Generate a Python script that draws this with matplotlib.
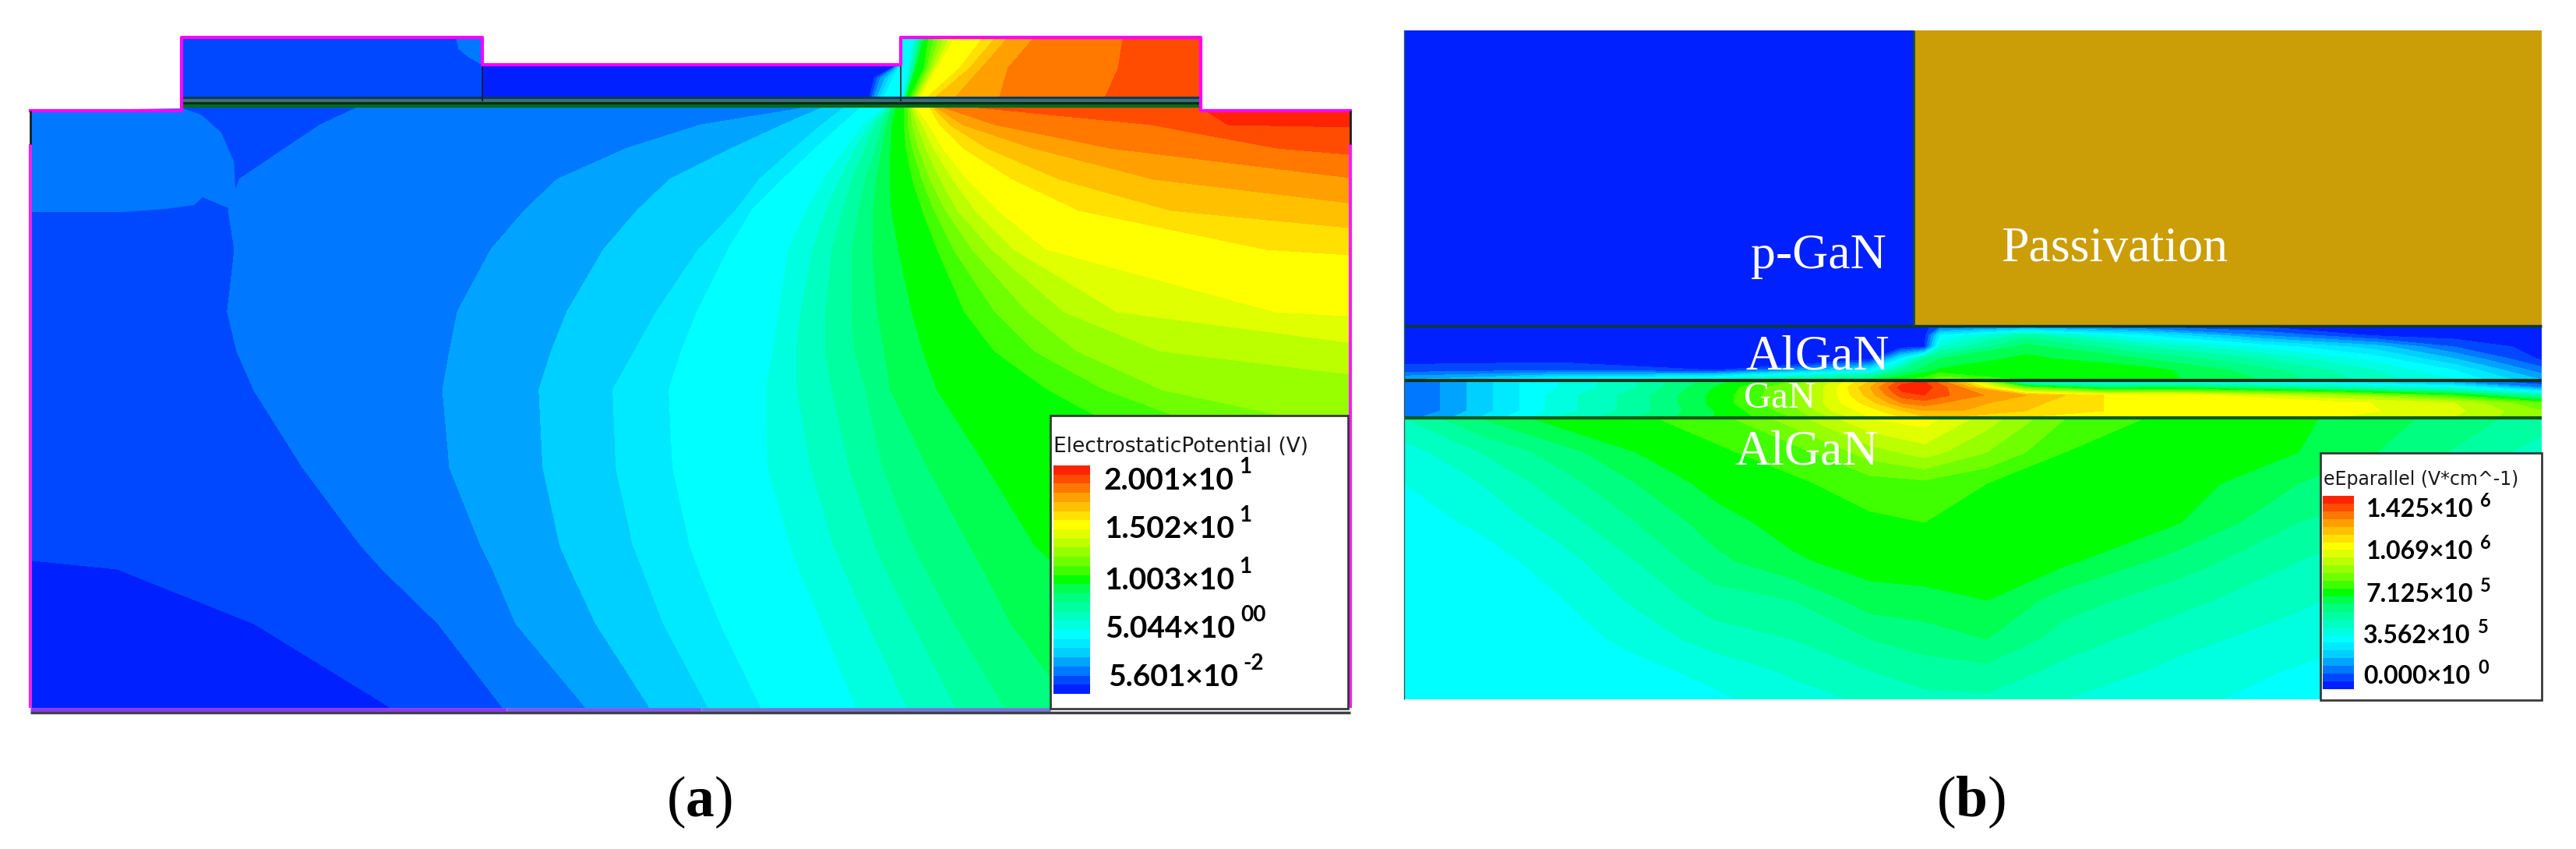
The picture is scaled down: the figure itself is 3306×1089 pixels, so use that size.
import matplotlib

matplotlib.use("Agg")

import matplotlib.pyplot as plt
import numpy as np
from matplotlib.colors import BoundaryNorm, ListedColormap
from matplotlib.patches import Polygon, Rectangle

# Colour steps of the TCAD legend, low to high.
band_colors = [
    "#0020ff", "#0048ff", "#0078ff", "#00a4ff", "#00d0ff", "#00eaff", "#00ffff",
    "#00ffe0", "#00ffc0", "#00ffa0", "#00ff80", "#00ff50", "#00ff00", "#40ff00",
    "#70ff00", "#98ff00", "#bcff00", "#e0ff00", "#ffff00", "#ffe000", "#ffc000",
    "#ffa000", "#ff7800", "#ff4c00", "#ff2400",
]

# (a) potential: for each depth, the x where the potential crosses each value.
depths = [137, 160, 190, 230, 270, 320, 400, 450, 500, 600, 700, 730, 800, 909]
potentials = [0.85, 1.65, 2.45, 3.25, 4.05, 4.85, 5.64, 6.44, 7.24, 8.04, 8.84, 9.63,
              10.43, 11.23, 12.03, 12.83, 13.63, 14.42, 15.22, 16.02, 16.82, 17.62,
              18.41, 19.21]
crossing_x = [
    [-200, -200, -200, -200, -200, -200, -200, -200, -200, -180, -148, 149, 325, 503],
    [459, 410, 365, 306, 292, 300, 291, 303, 325, 388, 463, 490, 562, 646],
    [1040, 900, 805, 715, 673, 630, 587, 577, 568, 577, 617, 632, 662, 753],
    [1058, 1005, 940, 860, 818, 775, 728, 708, 692, 697, 719, 732, 765, 835],
    [1085, 1055, 1020, 975, 945, 897, 843, 815, 787, 791, 813, 825, 852, 910],
    [1106, 1080, 1047, 1005, 965, 935, 895, 875, 859, 864, 886, 897, 925, 978],
    [1137, 1108, 1086, 1057, 1035, 1012, 1000, 992, 983, 985, 1015, 1025, 1055, 1099],
    [1140, 1117, 1099, 1078, 1060, 1043, 1028, 1022, 1023, 1041, 1070, 1083, 1114, 1165],
    [1142, 1124, 1111, 1094, 1082, 1068, 1060, 1059, 1068, 1090, 1123, 1137, 1172, 1228],
    [1144, 1133, 1124, 1111, 1102, 1094, 1093, 1097, 1111, 1133, 1172, 1188, 1225, 1291],
    [1146, 1138, 1132, 1125, 1121, 1120, 1126, 1135, 1143, 1191, 1245, 1262, 1298, 1378],
    [1150, 1145, 1143, 1142, 1144, 1153, 1170, 1184, 1202, 1266, 1327, 1360, 1420, 1500],
    [1160, 1160, 1163, 1171, 1184, 1203, 1238, 1276, 1345, 1530, 1600, 1650, 1700, 1800],
    [1165, 1165, 1171, 1183, 1199, 1224, 1277, 1327, 1418, 1690, 1800, 1850, 1900, 2000],
    [1168, 1171, 1179, 1194, 1214, 1248, 1319, 1382, 1492, 1960, 2100, 2150, 2200, 2300],
    [1170, 1177, 1188, 1207, 1229, 1273, 1366, 1488, 1897, 2400, 2500, 2550, 2600, 2700],
    [1172, 1184, 1198, 1223, 1252, 1302, 1434, 1816, 2300, 2800, 2900, 2950, 3000, 3100],
    [1175, 1192, 1210, 1241, 1281, 1342, 1632, 2557, 3000, 3200, 3300, 3350, 3400, 3500],
    [1193, 1206, 1236, 1300, 1385, 1625, 2825, 3000, 3200, 3400, 3500, 3550, 3600, 3700],
    [1197, 1219, 1267, 1360, 1503, 2020, 3000, 3200, 3400, 3600, 3700, 3750, 3800, 3900],
    [1200, 1236, 1326, 1481, 1814, 2230, 3200, 3400, 3600, 3800, 3900, 3950, 4000, 4100],
    [1208, 1278, 1425, 1751, 2010, 2600, 3400, 3600, 3800, 4000, 4100, 4150, 4200, 4300],
    [1245, 1477, 1632, 2090, 2660, 3000, 3600, 3800, 4000, 4200, 4300, 4350, 4400, 4500],
    [1529, 1566, 3200, 3400, 3500, 3600, 3800, 4000, 4200, 4400, 4500, 4550, 4600, 4700],
]

# Patch of higher potential under the source corner.
blob_x = [39, 235, 258, 284, 300, 302, 306, 293, 260, 249, 213, 159, 39]
blob_y = [142, 139, 147, 170, 207, 240, 250, 267, 253, 263, 268, 272, 272]
blob_potential = 2.0

# The three mesas on top of the body.
left_mesa_depths = [48, 62, 73, 83, 125]
left_mesa_potentials = [1.65]
left_mesa_x = [[585, 588, 601, 619, 640]]

mid_mesa_depths = [83, 100, 125]
mid_mesa_potentials = [0.85, 1.65, 2.45, 3.25, 4.05, 4.85]
mid_mesa_x = [
    [1152, 1122, 1116],
    [1153, 1126, 1119],
    [1154, 1130, 1122],
    [1155, 1136, 1126],
    [1156, 1141, 1130],
    [1157, 1146, 1135],
]

right_mesa_depths = [48, 87, 125]
right_mesa_potentials = [4.85, 5.64, 9.63, 10.43, 14.42, 15.22, 16.02, 16.82, 17.62, 18.41]
right_mesa_x = [
    [1100, 1100, 1100],
    [1172, 1166, 1160],
    [1186, 1176, 1163],
    [1192, 1186, 1168],
    [1226, 1203, 1181],
    [1262, 1232, 1190],
    [1278, 1245, 1200],
    [1294, 1260, 1226],
    [1328, 1294, 1283],
    [1419, 1413, 1396],
]

layer_depths_a = [126, 129, 133, 136]
layer_colors_a = ["#0d3a58", "#3f6f72", "#062c10", "#046a1e"]
gate_edges_x = [619, 1156]

# (b) field, read in legend steps of 57 kV/cm.
barrier_x = [1802, 2000, 2200, 2400, 2440, 2470, 2490, 2600, 2750, 2900, 3050, 3150, 3262]
barrier_y = [419, 430, 445, 460, 475, 487]
barrier_steps = [
    [.5, .5, .5, .5, .5, .5, 2, 3, 2, 1, .5, .5, .5],
    [.5, .5, .5, .5, .5, .5, 6, 9.5, 6, 3, .8, .5, .5],
    [.5, .5, .5, .5, .5, 1, 8, 11.5, 9, 6.8, 4.5, 2, .5],
    [.5, .5, .5, .5, 6, 10, 11, 12.3, 11, 9, 6.5, 4, .8],
    [1.5, 2, 1, 6, 10, 11.5, 12.2, 12.7, 12.5, 10.5, 8, 6, 2.5],
    [4, 6.5, 8.5, 11.5, 13, 13.5, 15, 12.8, 12.5, 11, 8.5, 7, 4],
]

channel_x = [1802, 1848, 1900, 1950, 2000, 2100, 2200, 2300, 2350, 2400, 2441, 2470, 2518,
             2600, 2700, 2800, 3000, 3150, 3262]
channel_y = [489, 497, 507, 517, 527, 535]
channel_steps = [
    [2, 3, 4.5, 6, 7, 9, 11.5, 14, 17, 20, 23.5, 24, 20, 7, 6.5, 6.5, 5, 3, .8],
    [2, 3, 4.5, 6, 7, 9, 12, 15, 17.5, 21, 24.5, 24.5, 22, 14, 11, 11.5, 9, 7, 3],
    [2, 3, 4.5, 6, 7.5, 9.5, 12.3, 15, 17.5, 20.5, 23.5, 24, 22.5, 21, 19, 18.5, 16, 13, 9],
    [2, 3, 4.5, 6, 7.5, 9.5, 12.3, 15, 17.5, 19.5, 22, 22.5, 21.5, 20.3, 19, 18.5, 18.4, 17, 14],
    [2, 3, 4.5, 6, 7.5, 9.5, 12, 14.5, 17, 18.5, 20, 21, 21, 20, 19, 18.5, 18.4, 17.3, 15],
    [2.5, 3.5, 5, 6.5, 8, 10, 12, 14, 16, 18, 19, 19.8, 19.8, 19, 18.5, 18.4, 18, 17, 15],
]

buffer_x = [1802, 1900, 2000, 2100, 2200, 2300, 2400, 2470, 2550, 2650, 2800, 2950, 3100, 3262]
buffer_y = [537, 580, 620, 670, 720, 770, 820, 860, 897]
buffer_steps = [
    [9, 11, 12.5, 12.8, 13.5, 15.5, 18, 18.5, 16.5, 14, 12.5, 12.2, 11, 9.5],
    [7.5, 9, 10.5, 12, 12.8, 13.5, 15.5, 16.5, 15, 13, 12.5, 12, 10.5, 8.5],
    [7, 8, 9.5, 11, 12.4, 12.8, 13.5, 13.7, 13, 12.8, 12.5, 11, 10, 8],
    [6.5, 7.2, 8.5, 10, 11.5, 12.5, 12.8, 13, 12.8, 12.6, 12, 10, 8.8, 7.5],
    [6.3, 6.5, 7.5, 9, 10.7, 11.8, 12.5, 12.7, 12.7, 12.2, 10.5, 9, 8, 7],
    [6.2, 6.3, 6.9, 8.2, 9.5, 10, 11.5, 11.6, 12, 10.5, 9.3, 8.2, 7.2, 6.7],
    [6.1, 6.2, 6.5, 7.3, 8.5, 9, 10, 10.5, 11, 9.5, 8.3, 7.5, 6.7, 6.4],
    [6.1, 6.2, 6.3, 6.7, 7.3, 8.2, 9, 9.5, 9.7, 8.7, 7.7, 6.9, 6.4, 6.2],
    [6.1, 6.1, 6.2, 6.4, 6.8, 7.5, 8.2, 8.7, 8.8, 8, 7.2, 6.6, 6.2, 6.1],
]

# Legends
title_a = "ElectrostaticPotential (V)"
values_a = ["2.001×10", "1.502×10", "1.003×10", "5.044×10", "5.601×10"]
powers_a = ["1", "1", "1", "00", "-2"]
label_x_a = [1417, 1417, 1417, 1418, 1422]
label_y_a = [628, 690, 756, 818, 880]
power_x_a = [1590, 1590, 1590, 1592, 1595]

title_b = "eEparallel (V*cm^-1)"
values_b = ["1.425×10", "1.069×10", "7.125×10", "3.562×10", "0.000×10"]
powers_b = ["6", "6", "5", "5", "0"]
label_x_b = [3037, 3037, 3036, 3033, 3033]
label_y_b = [663, 717, 772, 825, 877]
power_x_b = [3183, 3183, 3183, 3180, 3180]

regions_b = ["p-GaN", "Passivation", "AlGaN", "GaN", "AlGaN"]
region_x = [2247, 2568, 2240, 2238, 2226]
region_y = [344, 335, 473, 523, 596]
region_size = [46, 46, 46, 35, 46]


plt.rcParams["mathtext.fontset"] = "custom"
plt.rcParams["mathtext.rm"] = "Liberation Serif"
plt.rcParams["mathtext.bf"] = "Liberation Serif:bold"

n_bands = len(band_colors)
cmap = ListedColormap(band_colors)
levels_a = np.linspace(0.056, 20.01, n_bands + 1)
norm_a = BoundaryNorm(levels_a, n_bands)
field_step = 1.425e6 / n_bands
levels_b = np.linspace(0, 1.425e6, n_bands + 1)
norm_b = BoundaryNorm(levels_b, n_bands)


def crossing_field(ax, rows, values, crossings, low, high, x_low, x_high, clip):
    # The crossings make a curved grid, contourf draws the bands on it.
    rows = np.array(rows, dtype=float)
    x = np.array(crossings, dtype=float).T
    n = len(rows)
    grid_x = np.column_stack([np.full(n, x_low), x, np.full(n, x_high)])
    grid_y = np.tile(rows[:, None], (1, grid_x.shape[1]))
    grid_z = np.tile([low, *values, high], (n, 1))
    field = ax.contourf(grid_x, grid_y, grid_z, levels=levels_a, cmap=cmap, norm=norm_a, zorder=1)
    field.set_clip_path(Polygon(clip, transform=ax.transData))


def legend_box(ax, box, bar, levels, norm, title, title_pos, title_size, labels, label_x,
               label_y, powers, power_x, power_rise, size, power_size):
    ax.add_patch(Rectangle((box[0], box[1]), box[2] - box[0], box[3] - box[1], fc="white",
                           ec="#3a3a3a", lw=2, zorder=5))
    edges = np.linspace(bar[3], bar[1], len(levels))
    mids = (levels[:-1] + levels[1:]) / 2
    ax.pcolormesh([bar[0], bar[2]], edges, mids[:, None], cmap=cmap, norm=norm, zorder=6)
    ax.text(title_pos[0], title_pos[1], title, fontsize=title_size, family="DejaVu Sans",
            color="#1a1a1a", va="baseline", zorder=6)
    for text, x, y, power, px in zip(labels, label_x, label_y, powers, power_x):
        ax.text(x, y, text, fontsize=size, family="Lato", weight="bold", va="baseline", zorder=6)
        ax.text(px, y - power_rise, power, fontsize=power_size, family="Lato", weight="bold",
                va="baseline", zorder=6)


fig = plt.figure(figsize=(33.06, 10.89), dpi=100)
ax_a = fig.add_axes([0, 0, 1780 / 3306, 1])
ax_b = fig.add_axes([1780 / 3306, 0, 1526 / 3306, 1])
ax_a.set_xlim(0, 1780)
ax_b.set_xlim(1780, 3306)
for ax in (ax_a, ax_b):
    ax.set_ylim(1089, 0)
    ax.axis("off")

# Panel (a)
body = [(39, 142), (233, 142), (233, 137), (1541, 137), (1541, 142), (1733, 142), (1733, 908), (39, 908)]
crossing_field(ax_a, depths, potentials, crossing_x, 0.056, 20.01, -400, 6000, body)
ax_a.fill(blob_x, blob_y, color=cmap(norm_a(blob_potential)), zorder=2, lw=0)

crossing_field(ax_a, left_mesa_depths, left_mesa_potentials, left_mesa_x, 0.9, 2.4, 200, 800,
               [(233, 48), (619, 48), (619, 125), (233, 125)])
crossing_field(ax_a, mid_mesa_depths, mid_mesa_potentials, mid_mesa_x, 0.3, 5.5, 500, 1300,
               [(619, 83), (1156, 83), (1156, 125), (619, 125)])
crossing_field(ax_a, right_mesa_depths, right_mesa_potentials, right_mesa_x, 4.1, 19.0, 1000, 5000,
               [(1156, 48), (1541, 48), (1541, 125), (1156, 125)])

for y, color in zip(layer_depths_a, layer_colors_a):
    ax_a.hlines(y, 233, 1541, color=color, lw=3, zorder=3)
ax_a.vlines(gate_edges_x, 84, 130, color="#10202a", lw=1.2, zorder=3)

ax_a.plot([39, 233, 233, 619, 619, 1156, 1156, 1541, 1541, 1733],
          [142, 142, 48, 48, 83, 83, 48, 48, 142, 142], color="#ff00ff", lw=3, zorder=4)
ax_a.vlines([39, 1733], 185, 908, color="#f020f0", lw=3, zorder=4)
ax_a.vlines([39, 1733], 142, 185, color="#102028", lw=2, zorder=4)
ax_a.hlines([910, 910, 910], [39, 650, 900], [650, 900, 1348],
            color=["#8c38ff", "#7a5cf0", "#7078d8"], lw=3.5, zorder=4)
ax_a.hlines(914, 39, 1733, color="#404048", lw=2.5, zorder=4)

legend_box(ax_a, (1348, 533, 1730, 909), (1352, 597, 1399, 890), levels_a, norm_a, title_a,
           (1352, 580), 19, values_a, label_x_a, label_y_a, powers_a, power_x_a, 21, 28, 20)

# Panel (b)
ax_b.add_patch(Rectangle((1802, 39), 2456 - 1802, 418 - 39, color=band_colors[0], zorder=1, lw=0))
ax_b.add_patch(Rectangle((2456, 39), 3262 - 2456, 418 - 39, color="#cb9d06", zorder=1, lw=0))
for x, y, steps in [(barrier_x, barrier_y, barrier_steps),
                    (channel_x, channel_y, channel_steps),
                    (buffer_x, buffer_y, buffer_steps)]:
    ax_b.contourf(x, y, np.array(steps) * field_step, levels=levels_b, cmap=cmap, norm=norm_b, zorder=1)

ax_b.hlines(418, 1802, 3262, color="#0c3a2a", lw=2.5, zorder=3)
ax_b.hlines(488, 1802, 3262, color="#08301a", lw=3, zorder=3)
ax_b.hlines(536, 1802, 3262, color="#0a5a1c", lw=3, zorder=3)
ax_b.vlines(2456, 39, 418, color="#12503a", lw=2, zorder=3)
ax_b.vlines(1802, 39, 897, color="#206060", lw=1, zorder=3)

for text, x, y, size in zip(regions_b, region_x, region_y, region_size):
    ax_b.text(x, y, text, color="white", fontsize=size, family="Liberation Serif", va="baseline", zorder=4)

legend_box(ax_b, (2978, 581, 3262, 898), (2981, 636, 3021, 884), levels_b, norm_b, title_b,
           (2982, 622), 17, values_b, label_x_b, label_y_b, powers_b, power_x_b, 13, 23, 17)

# Captions
for ax, x, label in [(ax_a, 897, r"($\mathbf{a}$)"), (ax_b, 2529, r"($\mathbf{b}$)")]:
    ax.text(x, 1047, label, fontsize=53, family="Liberation Serif", ha="center", va="baseline")

fig.savefig("out.png", dpi=100)
